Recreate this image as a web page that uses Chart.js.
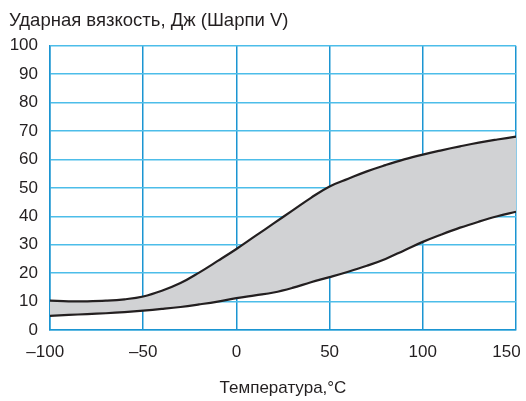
<!DOCTYPE html>
<html>
<head>
<meta charset="utf-8">
<script src="https://cdn.jsdelivr.net/npm/chart.js@4"></script>
<style>
  html, body { margin: 0; padding: 0; background: #fff; }
  #wrap { width: 526px; height: 401px; }
</style>
</head>
<body>
<div id="wrap"><canvas id="impactChart"></canvas></div>
<script>
// ===== Ударная вязкость (Шарпи V) vs температура =====

const temps = [-100, -90, -80, -70, -60, -50, -40, -30, -20, -10, 0, 10, 20, 30, 40, 50, 60, 70, 80, 90, 100, 110, 120, 130, 140, 150];
const upperJ = [10.3, 10.1, 10.1, 10.3, 10.8, 11.8, 13.8, 16.5, 20.2, 24.3, 28.5, 33, 37.5, 42, 46.5, 50.5, 53.2, 55.8, 58, 60, 61.7, 63.2, 64.6, 65.9, 67, 68];
const lowerJ = [5, 5.3, 5.6, 5.9, 6.3, 6.8, 7.4, 8.1, 9, 10, 11.2, 12.2, 13.2, 14.8, 16.8, 18.6, 20.5, 22.6, 25, 28, 31, 33.6, 36, 38.1, 40, 41.6];
const xTicks = [-100, -50, 0, 50, 100, 150];
const yTicks = [0, 10, 20, 30, 40, 50, 60, 70, 80, 90, 100];

const ink = '#231f20';
const fontFam = '"Liberation Sans", Arial, sans-serif';

function pts(ys) {
  return temps.map((t, i) => ({ x: t, y: ys[i] }));
}

function xLabel(v) {
  let s = v < 0 ? '\u2013' + Math.abs(v) : String(v);
  if (v === 150) s = s + '\u2007\u2007';
  if (v === -100) s = s + '\u2007';
  return s;
}

new Chart(document.getElementById('impactChart'), {
  type: 'line',
  data: {
    datasets: [
      { label: 'min', data: pts(lowerJ), borderColor: ink, borderWidth: 2.2, pointRadius: 0, fill: false, tension: 0.4 },
      { label: 'max', data: pts(upperJ), borderColor: ink, borderWidth: 2.2, pointRadius: 0, fill: { target: 0 }, backgroundColor: '#d1d2d4', tension: 0.4 }
    ]
  },
  options: {
    responsive: true, maintainAspectRatio: false, animation: false,
    layout: { padding: { top: 0, left: 9, right: 10, bottom: 0 } },
    plugins: {
      legend: { display: false }, tooltip: { enabled: false },
      title: { display: true, text: 'Ударная вязкость, Дж (Шарпи V)', align: 'start', color: ink, font: { family: fontFam, size: 18.5, weight: 'normal' }, padding: { top: 10, bottom: 13.5 } }
    },
    scales: {
      x: {
        type: 'linear', min: -100, max: 150,
        afterBuildTicks: s => { s.ticks = xTicks.map(v => ({ value: v })); },
        afterFit: s => { s.height = 71; s.paddingLeft = 0; s.paddingRight = 0; },
        grid: { color: '#1b95d2', lineWidth: 1.5, drawTicks: false },
        border: { color: '#1b95d2', width: 1.5 },
        ticks: { color: ink, padding: 12, font: { family: fontFam, size: 17 }, callback: v => xLabel(v) },
        title: { display: true, text: 'Температура,°C', color: ink, font: { family: fontFam, size: 17 }, padding: { top: 0, bottom: 2 } }
      },
      y: {
        min: 0, max: 100,
        afterBuildTicks: s => { s.ticks = yTicks.map(v => ({ value: v })); },
        afterFit: s => { s.width = 41; },
        grid: { color: '#4dbde9', lineWidth: 1.5, drawTicks: false },
        border: { color: '#1b95d2', width: 1.5 },
        ticks: { color: ink, padding: 12, font: { family: fontFam, size: 17 } }
      }
    }
  }
});
</script>
</body>
</html>
